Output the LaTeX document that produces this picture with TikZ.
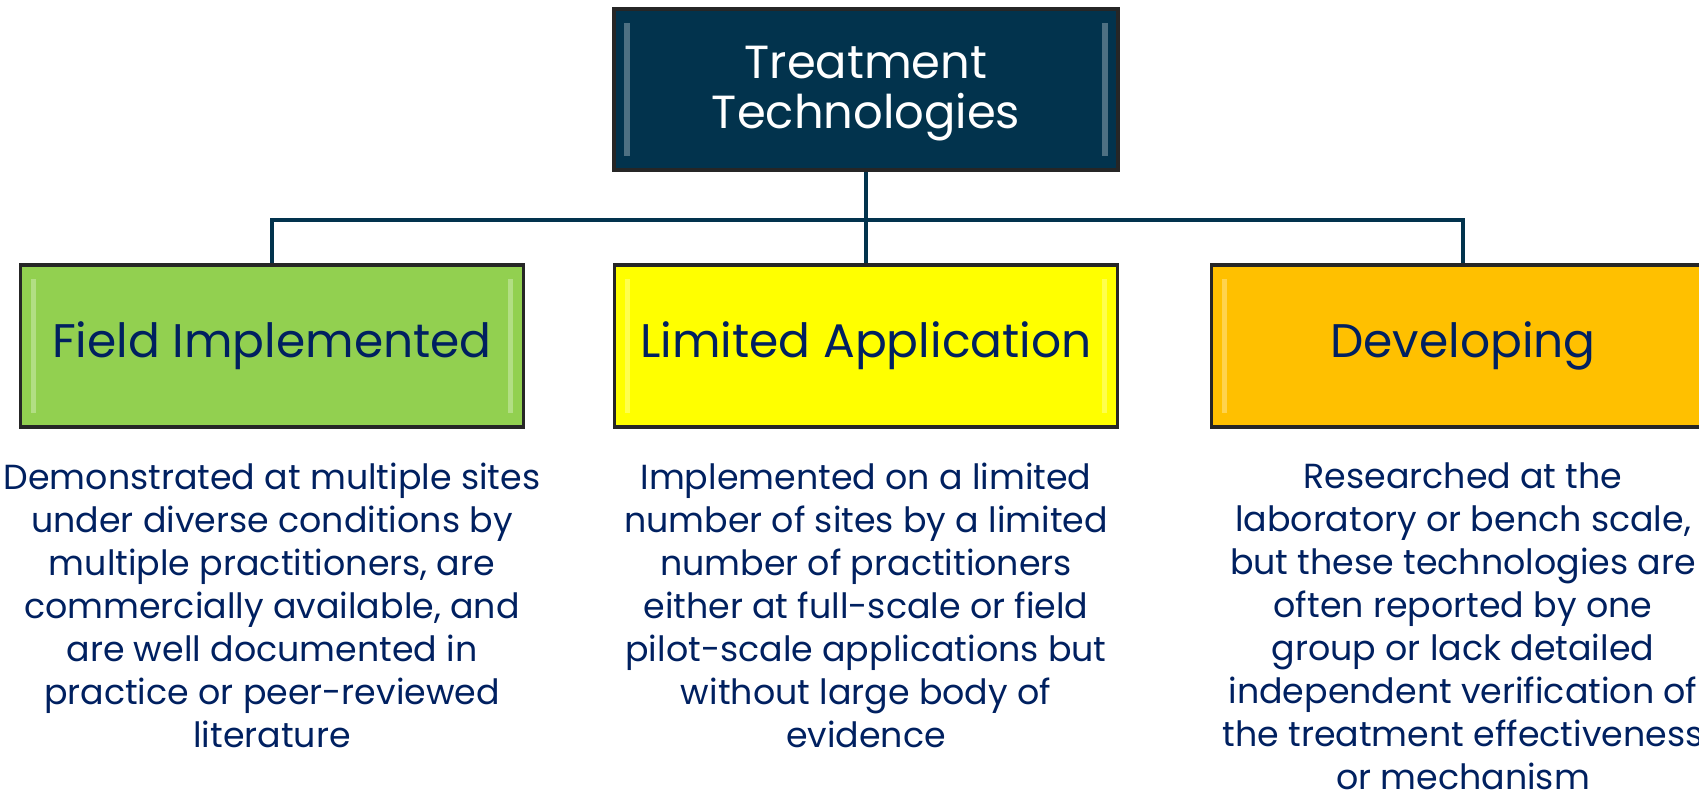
\documentclass[tikz,border=0pt]{standalone}
\usepackage{fontspec}
\setmainfont{Poppins}
\usetikzlibrary{positioning}
\definecolor{navy}{RGB}{2,51,77}
\definecolor{inknavy}{RGB}{0,32,96}
\definecolor{fieldgreen}{RGB}{146,208,80}
\definecolor{limyellow}{RGB}{255,255,0}
\definecolor{devorange}{RGB}{255,192,0}
\tikzset{
	catbox/.style={shape=rectangle, draw=black!85, line width=1pt, minimum width=5.03cm, minimum height=1.62cm, inner sep=2pt, align=center, text=inknavy, font=\fontsize{13.4}{16}\selectfont,
		path picture={
			\fill[white, opacity=0.3] ([xshift=3pt, yshift=4pt]path picture bounding box.south west) rectangle ([xshift=4.5pt, yshift=-4pt]path picture bounding box.north west);
			\fill[white, opacity=0.3] ([xshift=-4.5pt, yshift=4pt]path picture bounding box.south east) rectangle ([xshift=-3pt, yshift=-4pt]path picture bounding box.north east);
		}},
	desc/.style={align=center, text=inknavy, inner sep=0pt, font=\fontsize{9.9}{12.25}\selectfont},
	link/.style={draw=navy, line width=1.3pt}
}
\begin{document}
\begin{tikzpicture}[x=0.01cm, y=-0.01cm]
	\clip (0, 0) rectangle (1699, 795);
	% Boxes:
	\node[catbox, fill=navy, text=white, minimum width=5.04cm, minimum height=1.61cm, font=\fontsize{13.2}{14.2}\selectfont] (tt) at (866, 89.5) {\rule{0pt}{11.6pt}Treatment\\Technologies};
	\node[catbox, fill=fieldgreen] (fi) at (272, 346) {Field Implemented};
	\node[catbox, fill=limyellow] (la) at (866, 346) {Limited Application};
	\node[catbox, fill=devorange] (dev) at (1463, 346) {Developing};
	% Wires:
	\coordinate (bus) at (866, 220);
	\draw[link] (tt.south) -- (la.north);
	\draw[link] (fi.north) |- (bus) -| (dev.north);
	% Descriptions:
	\node[desc, below=0.33cm of fi] (fitext) {Demonstrated at multiple sites\\under diverse conditions by\\multiple practitioners, are\\commercially available, and\\are well documented in\\practice or peer-reviewed\\literature};
	\node[desc, below=0.33cm of la] (latext) {Implemented on a limited\\number of sites by a limited\\number of practitioners\\either at full-scale or field\\pilot-scale applications but\\without large body of\\evidence};
	\node[desc, below=0.33cm of dev] (devtext) {Researched at the\\laboratory or bench scale,\\but these technologies are\\often reported by one\\group or lack detailed\\independent verification of\\the treatment effectiveness\\or mechanism};
\end{tikzpicture}
\end{document}
